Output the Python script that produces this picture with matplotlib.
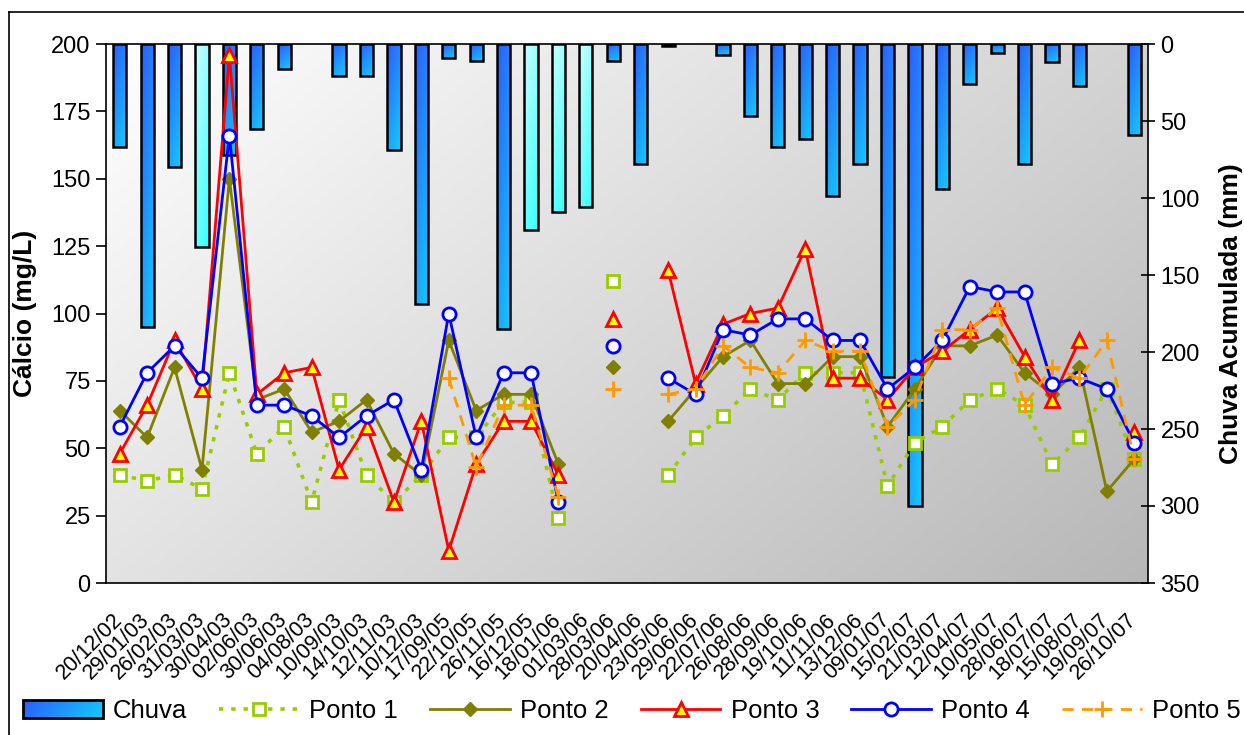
import numpy as np
import matplotlib
matplotlib.use("Agg")
import matplotlib.pyplot as plt
from matplotlib.patches import Patch, Rectangle
from matplotlib.lines import Line2D
from matplotlib.legend_handler import HandlerBase
from matplotlib.image import BboxImage
from matplotlib.transforms import Bbox, TransformedBbox, ScaledTranslation

plt.rcParams['font.family'] = ['Liberation Sans', 'DejaVu Sans']

nan = np.nan

dates = ["20/12/02", "29/01/03", "26/02/03", "31/03/03", "30/04/03", "02/06/03",
         "30/06/03", "04/08/03", "10/09/03", "14/10/03", "12/11/03", "10/12/03",
         "17/09/05", "22/10/05", "26/11/05", "16/12/05", "18/01/06", "01/03/06",
         "28/03/06", "20/04/06", "23/05/06", "29/06/06", "22/07/06", "26/08/06",
         "28/09/06", "19/10/06", "11/11/06", "13/12/06", "09/01/07", "15/02/07",
         "21/03/07", "12/04/07", "10/05/07", "28/06/07", "18/07/07", "15/08/07",
         "19/09/07", "26/10/07"]

chuva = [67, 184, 80, 132, 72, 55, 16, 0, 21, 21, 69, 169,
         9, 11, 185, 121, 109, 106, 11, 78, 1, 0, 7, 47,
         67, 62, 99, 78, 216, 300, 94, 26, 6, 78, 12, 27,
         0, 59]
# bars drawn in the light cyan style
chuva_claras = [3, 15, 16, 17]

ponto1 = [40, 38, 40, 35, 78, 48, 58, 30, 68, 40, 30, 40,
          54, 54, 67, 67, 24, nan, 112, nan, 40, 54, 62, 72,
          68, 78, 78, 78, 36, 52, 58, 68, 72, 66, 44, 54,
          72, 46]
ponto2 = [64, 54, 80, 42, 150, 68, 72, 56, 60, 68, 48, 40,
          90, 64, 70, 70, 44, nan, 80, nan, 60, 72, 84, 90,
          74, 74, 84, 84, 58, 72, 88, 88, 92, 78, 70, 80,
          34, 46]
ponto3 = [48, 66, 90, 72, 196, 70, 78, 80, 42, 58, 30, 60,
          12, 44, 60, 60, 40, nan, 98, nan, 116, 74, 96, 100,
          102, 124, 76, 76, 68, 80, 86, 94, 102, 84, 68, 90,
          nan, 56]
ponto4 = [58, 78, 88, 76, 166, 66, 66, 62, 54, 62, 68, 42,
          100, 54, 78, 78, 30, nan, 88, nan, 76, 70, 94, 92,
          98, 98, 90, 90, 72, 80, 90, 110, 108, 108, 74, 76,
          72, 52]
ponto5 = [nan, nan, nan, nan, nan, nan, nan, nan, nan, nan, nan, nan,
          76, 43, 66, 66, 32, nan, 72, nan, 70, 72, 88, 80,
          78, 90, 86, 86, 58, 68, 94, 94, 102, 66, 80, 76,
          90, 46]

W, H = 1244, 735
fig = plt.figure(figsize=(W / 100, H / 100), dpi=100)
fig.patch.set_facecolor('white')

x0, x1 = 106, 1148
y0, y1 = 44, 583
pos = [x0 / W, 1 - y1 / H, (x1 - x0) / W, (y1 - y0) / H]

# background gradient
ax_bg = fig.add_axes(pos, zorder=0)
n = 200
u = np.linspace(0, 1, n)[None, :]
v = np.linspace(0, 1, n)[:, None]
g = (255 - 44 * u - 28 * v) / 255.0
bg = np.dstack([g, g, g])
ax_bg.imshow(bg, extent=(0, 1, 0, 1), aspect='auto', origin='upper')
ax_bg.set_axis_off()

x = np.arange(len(dates))


def grad_img(c0, c1, m=60, wu=0.35, wv=0.65):
    uu = np.linspace(0, 1, m)[None, :]
    vv = np.linspace(0, 1, m)[:, None]
    t = wu * uu + wv * vv
    c0 = np.array(c0)[None, None, :]
    c1 = np.array(c1)[None, None, :]
    return c0 * (1 - t[..., None]) + c1 * t[..., None]


DARK0, DARK1 = (0.17, 0.36, 1.0), (0.07, 0.80, 1.0)
img_dark = grad_img(DARK0, DARK1)
img_light = grad_img((0.80, 1.0, 1.0), (0.20, 1.0, 1.0))
img_legend = grad_img(DARK0, DARK1, wu=0.85, wv=0.15)

# rain bars (right axis, inverted)
ax2 = fig.add_axes(pos, zorder=1)
ax2.patch.set_visible(False)
bars = ax2.bar(x, chuva, width=0.48, color='none', edgecolor='black', linewidth=1.8, zorder=3)
for i, b in enumerate(bars):
    h = b.get_height()
    if h <= 0:
        b.set_linewidth(0)
        continue
    bx = b.get_x()
    bw = b.get_width()
    im = ax2.imshow(img_light if i in chuva_claras else img_dark,
                    extent=(bx, bx + bw, h, 0), origin='upper', aspect='auto', zorder=2)
    im.set_clip_path(b)

ax2.set_xlim(-0.5, len(dates) - 0.5)
ax2.set_ylim(350, 0)
ax2.yaxis.tick_right()
ax2.set_yticks(np.arange(0, 351, 50))
ax2.tick_params(axis='y', direction='inout', length=10, width=1.2, labelsize=17, pad=4)
ax2.set_xticks([])
for s in ['left', 'top', 'bottom']:
    ax2.spines[s].set_visible(False)
ax2.spines['right'].set_linewidth(1.2)
ax2.yaxis.set_label_position('right')
ax2.set_ylabel('Chuva Acumulada (mm)', fontsize=19, fontweight='bold', labelpad=14)

# calcium lines (left axis)
ax = fig.add_axes(pos, zorder=2)
ax.patch.set_visible(False)
l1, = ax.plot(x, ponto1, color='#99cc00', linestyle=(0, (1.2, 2.2)), lw=2.6,
              marker='s', ms=8, mfc='white', mec='#99cc00', mew=2, label='Ponto 1')
l2, = ax.plot(x, ponto2, color='#808000', lw=2, marker='D', ms=7,
              mfc='#808000', mec='#808000', label='Ponto 2')
l3, = ax.plot(x, ponto3, color='red', lw=2, marker='^', ms=10,
              mfc='yellow', mec='red', mew=2, label='Ponto 3')
l4, = ax.plot(x, ponto4, color='blue', lw=2, marker='o', ms=9.5,
              mfc='white', mec='blue', mew=2, label='Ponto 4')
l5, = ax.plot(x, ponto5, color='#ff9900', linestyle=(0, (4, 3)), lw=2,
              marker='+', ms=12, mew=2, mec='#ff9900', label='Ponto 5')

ax.set_xlim(-0.5, len(dates) - 0.5)
ax.set_ylim(0, 200)
ax.set_yticks(np.arange(0, 201, 25))
ax.tick_params(axis='y', direction='out', length=7, width=1.2, labelsize=17, pad=4)
ax.set_xticks(x)
ax.set_xticklabels(dates, rotation=45, ha='right', va='top', rotation_mode='anchor', fontsize=15.5)
ax.tick_params(axis='x', length=0, pad=19)
shift = ScaledTranslation(-8 / 100, 0, fig.dpi_scale_trans)
for lbl in ax.get_xticklabels():
    lbl.set_transform(lbl.get_transform() + shift)
for s in ['left', 'bottom', 'top']:
    ax.spines[s].set_linewidth(1.2)
ax.spines['right'].set_visible(False)
ax.set_ylabel('Cálcio (mg/L)', fontsize=19, fontweight='bold', labelpad=10)

# outer frame (left and top edges)
fig.add_artist(Line2D([9 / W, 9 / W], [0, 1 - 12 / H], color='black', lw=1.2, transform=fig.transFigure))
fig.add_artist(Line2D([9 / W, 1], [1 - 12 / H, 1 - 12 / H], color='black', lw=1.2, transform=fig.transFigure))


class HandlerGradPatch(HandlerBase):
    def create_artists(self, legend, orig_handle, xdescent, ydescent, width, height, fontsize, trans):
        bb = Bbox.from_bounds(-xdescent, -ydescent, width, height)
        img = BboxImage(TransformedBbox(bb, trans), interpolation='bilinear')
        img.set_data(img_legend)
        rect = Rectangle((-xdescent, -ydescent), width, height, facecolor='none',
                         edgecolor='black', linewidth=2, transform=trans)
        return [img, rect]


chuva_handle = Patch(facecolor='#2a8cff', edgecolor='black', linewidth=2)
handles = [chuva_handle, l1, l2, l3, l4, l5]
labels = ['Chuva', 'Ponto 1', 'Ponto 2', 'Ponto 3', 'Ponto 4', 'Ponto 5']
fig.legend(handles, labels, loc='center', bbox_to_anchor=(0.508, 1 - 711 / H), ncol=6,
           frameon=False, fontsize=18.5, handlelength=3.1, columnspacing=1.25,
           handletextpad=0.4, borderpad=0,
           handler_map={chuva_handle: HandlerGradPatch()})

fig.savefig('out.png', dpi=100)
